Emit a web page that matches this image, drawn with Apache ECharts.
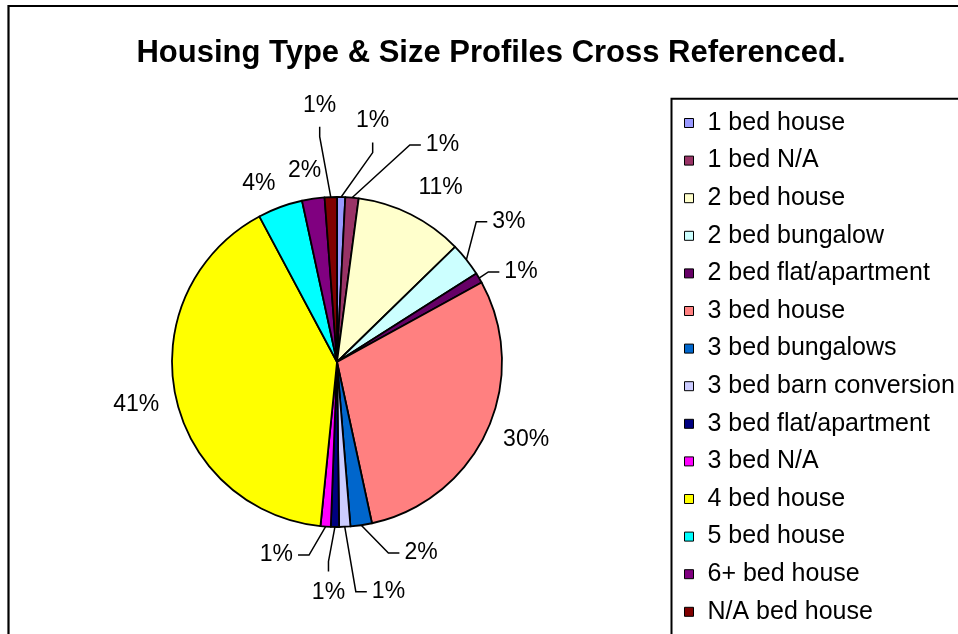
<!DOCTYPE html>
<html><head><meta charset="utf-8">
<script src="https://cdn.jsdelivr.net/npm/echarts@6/dist/echarts.min.js"></script>
<style>html,body{margin:0;padding:0;background:#fff}#c{width:958px;height:634px}</style>
</head><body><div id="c"></div>
<script>
const titleText = 'Housing Type & Size Profiles Cross Referenced.';
const categories = ['1 bed house','1 bed N/A','2 bed house','2 bed bungalow','2 bed flat/apartment','3 bed house','3 bed bungalows','3 bed barn conversion','3 bed flat/apartment','3 bed N/A','4 bed house','5 bed house','6+ bed house','N/A bed house'];
const shares = [0.8, 1.3, 10.6, 3.3, 1.0, 29.6, 2.1, 1.1, 0.8, 1.0, 40.6, 4.4, 2.2, 1.2];
const colors = ['#9999FF','#993366','#FFFFCC','#CCFFFF','#660066','#FF8080','#0066CC','#CCCCFF','#000080','#FF00FF','#FFFF00','#00FFFF','#800080','#800000'];

// label placement styling: [labelLine length, length2, leader kind]
const labelPlacement = [
  [76, 8, 'up'],
  [53, 64, 'side'],
  [30, -11, 'none'],
  [61, -27, 'side'],
  [12, 10, 'side'],
  [23, -10, 'none'],
  [28, 34, 'side'],
  [65, 19, 'side'],
  [66, -16, 'down'],
  [28.5, 25.6, 'side'],
  [57, -45, 'none'],
  [25, -9, 'none'],
  [28, -17, 'none'],
  [92, -14, 'up']
];

const FONT = '"Liberation Sans", Arial, sans-serif';
const chart = echarts.init(document.getElementById('c'), null, {renderer: 'canvas'});

const data = categories.map((name, i) => {
  const p = labelPlacement[i];
  return {
    name: name,
    value: shares[i],
    itemStyle: {color: colors[i]},
    labelLine: {show: p[2] !== 'none', length: p[0], length2: p[1]}
  };
});

chart.setOption({
  backgroundColor: '#fff',
  animation: false,
  title: {
    text: titleText,
    left: 486, top: 33, textAlign: 'center',
    textStyle: {fontFamily: FONT, fontSize: 31, fontWeight: 'bold', color: '#000', lineHeight: 30}
  },
  graphic: [{
    type: 'rect', silent: true, z: 100,
    shape: {x: 8.5, y: 6, width: 1000, height: 700},
    style: {fill: 'none', stroke: '#000', lineWidth: 2.2}
  }],
  legend: {
    orient: 'vertical', left: 671.5, top: 98.8, height: 800,
    padding: [11.7, 40, 40, 12.5],
    itemWidth: 9, itemHeight: 9, itemGap: 12.6,
    icon: 'rect',
    borderColor: '#000', borderWidth: 2,
    selectedMode: false,
    itemStyle: {borderColor: '#000', borderWidth: 1},
    textStyle: {fontFamily: FONT, fontSize: 25, color: '#000', lineHeight: 24, padding: [0, 0, 0, 9]},
    data: categories
  },
  series: [{
    type: 'pie',
    center: [337, 362],
    radius: 165,
    startAngle: 90,
    clockwise: true,
    avoidLabelOverlap: false,
    data: data,
    itemStyle: {borderColor: '#000', borderWidth: 1.8},
    label: {
      show: true, position: 'outside',
      fontFamily: FONT, fontSize: 23, color: '#000',
      formatter: (p) => Math.round(p.percent) + '%'
    },
    labelLine: {lineStyle: {color: '#000', width: 1.5}},
    emphasis: {disabled: true},
    labelLayout: function (params) {
      const kind = labelPlacement[params.dataIndex][2];
      const pts = params.labelLinePoints;
      const r = params.labelRect;
      if (!pts || kind === 'none') return {};
      const p0 = pts[0];
      const cxl = r.x + r.width / 2;
      if (kind === 'side') {
        const p2 = pts[2];
        const dir = cxl > p2[0] ? -1 : 1;
        return {labelLinePoints: [p0, [p2[0] + dir * 11, p2[1]], p2]};
      }
      if (kind === 'up') {
        const y2 = r.y + r.height + 10;
        return {labelLinePoints: [p0, [cxl, y2 + 10], [cxl, y2]]};
      }
      const y2 = r.y - 10;
      return {labelLinePoints: [p0, [cxl, y2 - 10], [cxl, y2]]};
    }
  }]
});
</script>
</body></html>
